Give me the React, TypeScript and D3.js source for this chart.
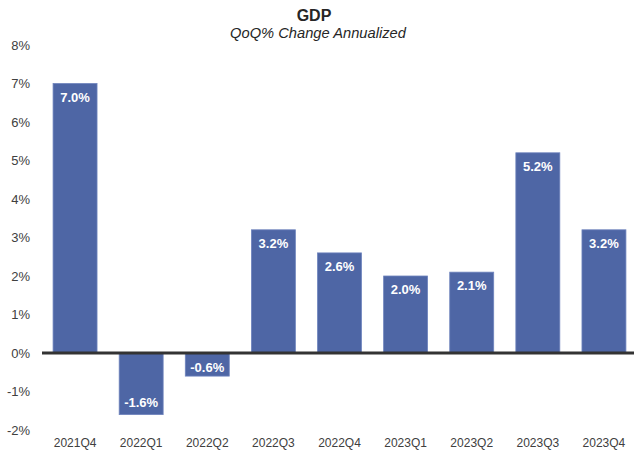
import React from "react";
import * as d3 from "d3";

const categories = ["2021Q4", "2022Q1", "2022Q2", "2022Q3", "2022Q4", "2023Q1", "2023Q2", "2023Q3", "2023Q4"];
const values = [7.0, -1.6, -0.6, 3.2, 2.6, 2.0, 2.1, 5.2, 3.2];
const yTicks = [-2, -1, 0, 1, 2, 3, 4, 5, 6, 7, 8];
const title = "GDP";
const subtitle = "QoQ% Change Annualized";

const W = 634;
const H = 452;
const FONT = "'Liberation Sans', Arial, sans-serif";

export default function App() {
  const x = d3.scaleBand<string>().domain(categories).range([42, 637]).paddingInner(0.335).paddingOuter(0.1675);
  const y = d3.scaleLinear().domain([-2, 8]).range([430, 45]);
  const y0 = y(0);

  return (
    <svg width={W} height={H} style={{ position: "absolute", left: 0, top: 0 }} fontFamily={FONT}>
      <rect x={0} y={0} width={W} height={H} fill="#fff" />
      <text x={314} y={21} textAnchor="middle" fontSize={16} fontWeight="bold" fill="#262626">{title}</text>
      <text x={318} y={38} textAnchor="middle" fontSize={14.7} fontStyle="italic" fill="#262626">{subtitle}</text>
      {yTicks.map((t) => (
        <text key={t} x={30} y={y(t)} dy="0.35em" textAnchor="end" fontSize={13} fill="#404040">{`${t}%`}</text>
      ))}
      {categories.map((c, i) => {
        const v = values[i];
        const bx = x(c)!;
        const bw = x.bandwidth();
        const top = v >= 0 ? y(v) : y0;
        const h = Math.abs(y(v) - y0);
        const cx = bx + bw / 2;
        const ly = v >= 0 ? y(v) + 18 : Math.max(y(v) - 8, y0 + 19);
        return (
          <g key={c}>
            <rect x={bx} y={top} width={bw} height={h} fill="#4e66a5" stroke="#6f84bd" strokeWidth={0.8} />
            <text x={cx} y={ly} textAnchor="middle" fontSize={13} fontWeight="bold" fill="#fff">{`${v.toFixed(1)}%`}</text>
            <text x={cx} y={447} textAnchor="middle" fontSize={12} fill="#404040">{c}</text>
          </g>
        );
      })}
      <line x1={42} x2={634} y1={y0} y2={y0} stroke="#333" strokeWidth={3} />
    </svg>
  );
}
